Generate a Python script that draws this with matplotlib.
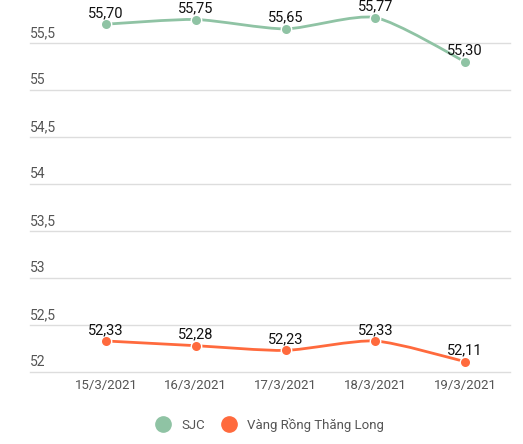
import matplotlib

matplotlib.use("Agg")
import matplotlib.pyplot as plt
from matplotlib.lines import Line2D
from matplotlib.path import Path
from matplotlib.patches import PathPatch
import matplotlib.transforms as mtransforms

plt.rcParams["font.family"] = ["Roboto", "DejaVu Sans"]

dates = ["15/3/2021", "16/3/2021", "17/3/2021", "18/3/2021", "19/3/2021"]
sjc = [55.70, 55.75, 55.65, 55.77, 55.30]
rong = [52.33, 52.28, 52.23, 52.33, 52.11]
series_names = ["SJC", "Vàng Rồng Thăng Long"]
y_ticks = [52, 52.5, 53, 53.5, 54, 54.5, 55, 55.5]

GREEN = "#8fc3a4"
ORANGE = "#ff6a3d"


def smooth_path(xs, ys, tension=0.35):
    # Catmull-Rom style bezier segments through the points
    verts = [(xs[0], ys[0])]
    codes = [Path.MOVETO]
    n = len(xs)
    for i in range(n - 1):
        x0, y0 = (xs[i - 1], ys[i - 1]) if i > 0 else (xs[i], ys[i])
        x1, y1 = xs[i], ys[i]
        x2, y2 = xs[i + 1], ys[i + 1]
        x3, y3 = (xs[i + 2], ys[i + 2]) if i + 2 < n else (x2, y2)
        c1 = (x1 + (x2 - x0) * tension / 3, y1 + (y2 - y0) * tension / 3)
        c2 = (x2 - (x3 - x1) * tension / 3, y2 - (y3 - y1) * tension / 3)
        verts += [c1, c2, (x2, y2)]
        codes += [Path.CURVE4] * 3
    return Path(verts, codes)


fig = plt.figure(figsize=(5.23, 4.44), dpi=100)
ax = fig.add_axes([61 / 523, 1 - 372 / 444, 449 / 523, (372 - 5.4) / 444])
ax.set_xlim(-0.5, len(dates) - 0.5)
ax.set_ylim(52, 55.9)

lab_tr = mtransforms.blended_transform_factory(ax.transAxes, ax.transData)
for v in y_ticks:
    ax.plot([-31 / 449, 1], [v, v], transform=lab_tr, color="#dddddd", lw=1,
            clip_on=False, zorder=0)
    txt = f"{v:g}".replace(".", ",")
    ax.annotate(txt, (-31 / 449, v), xycoords=lab_tr, xytext=(0, 2),
                textcoords="offset points", ha="left", va="bottom",
                fontsize=10, color="#555555")

xs = list(range(len(dates)))
for vals, col in ((sjc, GREEN), (rong, ORANGE)):
    ax.add_patch(PathPatch(smooth_path(xs, vals), facecolor="none",
                           edgecolor=col, lw=2, zorder=2))
    ax.plot(xs, vals, "o", color=col, ms=7.5, mec="white", mew=1, zorder=3)
    for x, v in zip(xs, vals):
        ax.annotate(f"{v:.2f}".replace(".", ","), (x, v), xytext=(0, 3),
                    textcoords="offset points", ha="center", va="bottom",
                    fontsize=10.5, color="#111111", zorder=4)

ax.set_xticks(xs)
ax.set_xticklabels(dates, fontsize=9.5, color="#555555")
ax.tick_params(axis="x", length=0, pad=5)
ax.tick_params(axis="y", left=False, labelleft=False)
for s in ax.spines.values():
    s.set_visible(False)

handles = [Line2D([], [], ls="none", marker="o", ms=11, color=c) for c in (GREEN, ORANGE)]
fig.legend(handles, series_names, loc="center", bbox_to_anchor=(0.51, 1 - 425 / 444),
           ncol=2, frameon=False, fontsize=9.5, labelcolor="#555555",
           handletextpad=0.4, columnspacing=0.8)

fig.savefig("out.png", dpi=100)
